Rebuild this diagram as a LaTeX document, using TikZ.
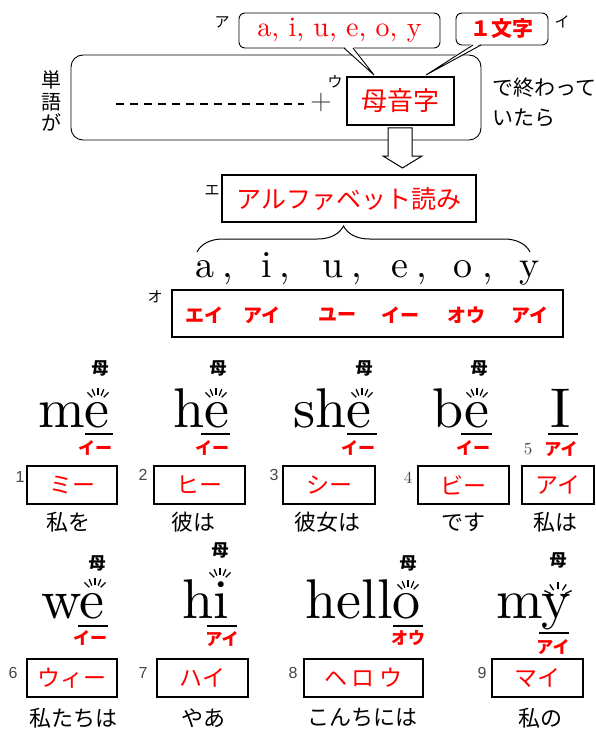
\documentclass[tikz,border=0pt]{standalone}
\usepackage{fontspec}
\newfontfamily\jp{Noto Sans CJK JP}
\newfontfamily\numfont{Liberation Sans}
\newfontfamily\serif{lmroman10-regular.otf}
\usetikzlibrary{decorations.pathreplacing}
\definecolor{numgray}{RGB}{70,70,70}

% short rays above a vowel
\newcommand{\glow}[3][45,67,90,113,135]{%
	\foreach \ang in {#1}
		\draw[line width=1.3pt] (#2,#3) ++(-\ang:8) -- ++(-\ang:7);
}

\begin{document}
\begin{tikzpicture}[x=1pt,y=-1pt,
		tag/.style={font=\jp\fontsize{15}{15}\selectfont, inner sep=0pt},
		callout/.style={draw, fill=white, rounded corners=6pt, line width=0.9pt, inner sep=0pt},
		redbox/.style={draw, line width=2pt, inner sep=0pt, text=red},
		word/.style={font=\serif\fontsize{56}{56}\selectfont, inner sep=0pt, anchor=base east},
		mother/.style={font=\jp\bfseries\fontsize{17}{17}\selectfont, inner sep=0pt},
		yomi/.style={text=red, font=\jp\bfseries\fontsize{17}{17}\selectfont, inner sep=0pt},
		uline/.style={line width=2pt},
		kbox/.style={redbox, minimum height=38pt, font=\jp\fontsize{23}{23}\selectfont},
		mean/.style={font=\jp\fontsize{22}{22}\selectfont, inner sep=0pt},
		num/.style={text=numgray, font=\numfont\fontsize{16}{16}\selectfont, inner sep=0pt}
	]
			\useasboundingbox (0,0) rectangle (596,741);

			% word box
			\node[draw, rounded corners=12pt, line width=0.9pt, minimum width=410pt, minimum height=85pt] (wordbox) at (276,97.5) {};
			\node[font=\jp\fontsize{20}{21.5}\selectfont, align=center, inner sep=0pt] (tango) at (51,101) {単\\語\\が};
			\draw[dash pattern=on 8pt off 6pt, line width=1.2pt] (116,104) -- (304,104);
			\node[text=numgray, font=\serif\fontsize{28}{28}\selectfont, inner sep=0pt] (plus) at (321,103) {+};
			\node[tag] (u) at (335,82) {ウ};
			\node[redbox, minimum width=107pt, minimum height=48pt, font=\jp\fontsize{26}{26}\selectfont] (boin) at (400.5,101) {母音字};
			\node[font=\jp\fontsize{21}{21}\selectfont, anchor=west, inner sep=0pt] (owa) at (492,88) {で終わって};
			\node[font=\jp\fontsize{21}{21}\selectfont, anchor=west, inner sep=0pt] (tara) at (492,118) {いたら};

			% callouts
			\node[callout, minimum width=201pt, minimum height=35pt, text=red, font=\serif\fontsize{28}{28}\selectfont] (vowels) at (339.5,30.5) {a, i, u, e, o, y};
			\node[callout, minimum width=92pt, minimum height=32pt, text=red, font=\jp\bfseries\fontsize{21}{21}\selectfont] (one) at (502,29) {１文字};
			\node[tag] (a) at (222,22) {ア};
			\node[tag] (i) at (562,22) {イ};
			\coordinate (tipa) at (374,75);
			\coordinate (tipi) at (426,75);
			\fill[white] (344,46.5) -- (tipa) -- (353,46.5) -- cycle;
			\draw[line width=0.9pt] (344,48) -- (tipa) -- (353,48);
			\fill[white] (473,43.5) -- (tipi) -- (481,43.5) -- cycle;
			\draw[line width=0.9pt] (473,45) -- (tipi) -- (481,45);

			% hollow arrow
			\draw[fill=white, line width=1pt] (388,128) -- (412,128) -- (412,156) -- (422,156) -- (402.5,168) -- (383,156) -- (388,156) -- cycle;

			% alphabet reading
			\node[tag] (e) at (212,190) {エ};
			\node[redbox, minimum width=254pt, minimum height=47pt, font=\jp\fontsize{25}{25}\selectfont] (abc) at (349,198.5) {アルファベット読み};
			\draw[decorate, decoration={brace, amplitude=26pt, aspect=0.44}, line width=1pt] (197,252) -- (530,252);
			\foreach \ch/\x in {a/205, i/267, u/333, e/400, o/463, y/530}
				\node[font=\serif\fontsize{38}{38}\selectfont, inner sep=0pt, anchor=base] (l\ch) at (\x,277) {\ch};
			\foreach \x in {228,285,357,422,488}
				\node[font=\serif\fontsize{38}{38}\selectfont, inner sep=0pt, anchor=base] (c\x) at (\x,277) {,};
			\node[tag] (o) at (155,297) {オ};
			\node[redbox, minimum width=391pt, minimum height=47pt] (kana) at (367.5,313.5) {};
			\foreach \k/\x in {エイ/204, アイ/262, ユー/337, イー/400, オウ/466, アイ/530}
				\node[yomi, font=\jp\bfseries\fontsize{19}{19}\selectfont] (k\x) at (\x,315) {\k};

			% words row 1
			\node[word] (me) at (110,427) {me};
			\draw[uline] (85,434) -- (113,434);
			\glow{98}{403}
			\node[mother] (bme) at (100,368) {母};
			\node[yomi] (yme) at (95,448) {イー};
			\node[num] (n1) at (20,477) {1};
			\node[kbox, minimum width=90pt] (kme) at (72,485) {ミー};
			\node[mean] (mme) at (68,522) {私を};

			\node[word] (he) at (230,427) {he};
			\draw[uline] (201,434) -- (230,434);
			\glow{216}{403}
			\node[mother] (bhe) at (218,368) {母};
			\node[yomi] (yhe) at (212,448) {イー};
			\node[num] (n2) at (143,475) {2};
			\node[kbox, minimum width=91pt] (khe) at (199.5,485) {ヒー};
			\node[mean] (mhe) at (193,522) {彼は};

			\node[word] (she) at (372,427) {she};
			\draw[uline] (347,434) -- (377,434);
			\glow{362}{403}
			\node[mother] (bshe) at (364,368) {母};
			\node[yomi] (yshe) at (358,448) {イー};
			\node[num] (n3) at (274,475) {3};
			\node[kbox, minimum width=92pt] (kshe) at (329,485) {シー};
			\node[mean] (mshe) at (327,522) {彼女は};

			\node[word] (be) at (490,427) {be};
			\draw[uline] (461,434) -- (492,434);
			\glow{477}{403}
			\node[mother] (bbe) at (479,368) {母};
			\node[yomi] (ybe) at (473,448) {イー};
			\node[text=numgray, font=\serif\fontsize{17}{17}\selectfont, inner sep=0pt] (n4) at (408,478) {4};
			\node[kbox, minimum width=91pt] (kbe) at (463.5,485) {ビー};
			\node[mean] (mbe) at (463,522) {です};

			\node[word, anchor=base] (I) at (561,427) {I};
			\draw[uline] (548,434) -- (578,434);
			\node[text=numgray, font=\serif\fontsize{17}{17}\selectfont, inner sep=0pt] (n5) at (528,449) {5};
			\node[yomi] (yI) at (561,449) {アイ};
			\node[kbox, minimum width=72pt] (kI) at (558,485) {アイ};
			\node[mean] (mI) at (555,522) {私は};

			% words row 2
			\node[word] (we) at (105,618) {we};
			\draw[uline] (78,626) -- (108,626);
			\glow{95}{593}
			\node[mother] (bwe) at (97,563) {母};
			\node[yomi] (ywe) at (90,638) {イー};
			\node[num] (n6) at (13,673) {6};
			\node[kbox, minimum width=90pt] (kwe) at (72,678) {ウィー};
			\node[mean] (mwe) at (73,718) {私たちは};

			\node[word] (hi) at (229,618) {hi};
			\draw[uline] (207,626) -- (237,626);
			\glow{220}{583}
			\node[mother] (bhi) at (220,550) {母};
			\node[yomi] (yhi) at (222,639) {アイ};
			\node[num] (n7) at (143,673) {7};
			\node[kbox, minimum width=91pt] (khi) at (202.5,678) {ハイ};
			\node[mean] (mhi) at (203,718) {やあ};

			\node[word] (hello) at (421,618) {hello};
			\draw[uline] (393,626) -- (423,626);
			\glow{408}{595}
			\node[mother] (bhello) at (408,563) {母};
			\node[yomi] (yhello) at (408,638) {オウ};
			\node[num] (n8) at (293,673) {8};
			\node[kbox, minimum width=119pt] (khello) at (363.5,678) {ヘ\hspace{5pt}ロ\hspace{5pt}ウ};
			\node[mean] (mhello) at (362,718) {こんちには};

			\node[word] (my) at (571,618) {my};
			\draw[uline] (539,633) -- (569,633);
			\glow[25,57,90,123,155]{558}{597}
			\node[mother] (bmy) at (558,560) {母};
			\node[yomi] (ymy) at (553,647) {アイ};
			\node[num] (n9) at (482,673) {9};
			\node[kbox, minimum width=91pt] (kmy) at (537.5,678) {マイ};
			\node[mean] (mmy) at (540,718) {私の};

		\end{tikzpicture}
\end{document}
